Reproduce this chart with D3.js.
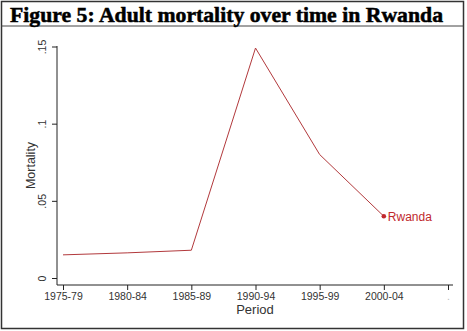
<!DOCTYPE html>
<html>
<head>
<meta charset="utf-8">
<script src="https://cdn.jsdelivr.net/npm/d3@7"></script>
<style>
  html, body { margin: 0; padding: 0; background: #fff; }
  svg { display: block; }
</style>
</head>
<body>
<svg id="chart" width="467" height="331"></svg>
<script>
// Adult mortality in Rwanda by five-year period
const periods = ["1975-79", "1980-84", "1985-89", "1990-94", "1995-99", "2000-04", "."];
const mortality = [0.015, 0.0163, 0.018, 0.149, 0.080, 0.040];
const yTicks = [0, 0.05, 0.1, 0.15];
const yTickLabels = ["0", ".05", ".1", ".15"];
const seriesName = "Rwanda";
const titleText = "Figure 5: Adult mortality over time in Rwanda";

const svg = d3.select("#chart");

// outer frame and title band
svg.append("rect")
  .attr("x", 1.5).attr("y", 1.5)
  .attr("width", 462).attr("height", 327)
  .attr("fill", "#fff").attr("stroke", "#333").attr("stroke-width", 1.5);
svg.append("line")
  .attr("x1", 1.5).attr("x2", 463.5).attr("y1", 26).attr("y2", 26)
  .attr("stroke", "#444").attr("stroke-width", 1);
svg.append("text")
  .attr("x", 10).attr("y", 21.5)
  .attr("font-family", "'Liberation Serif', 'Times New Roman', serif")
  .attr("font-weight", "bold")
  .attr("font-size", 20.5)
  .attr("textLength", 433).attr("lengthAdjust", "spacingAndGlyphs")
  .attr("fill", "#000")
  .attr("stroke", "#000").attr("stroke-width", 0.5)
  .text(titleText);

const plot = { left: 57, right: 453, top: 46, bottom: 285 };

const x = d3.scalePoint()
  .domain(periods)
  .range([63, 448]);

const y = d3.scaleLinear()
  .domain([0, 0.15])
  .range([278, 46.5]);

const sans = "'Liberation Sans', Arial, sans-serif";

// y axis
const yAxis = svg.append("g")
  .attr("transform", `translate(${plot.left},0)`)
  .call(d3.axisLeft(y).tickValues(yTicks)
    .tickFormat((d, i) => yTickLabels[i]).tickSize(5).tickSizeOuter(0));
yAxis.select(".domain").attr("d", `M0,${plot.top}V${plot.bottom}`)
  .attr("stroke", "#222");
yAxis.selectAll(".tick line").attr("stroke", "#222");
yAxis.selectAll(".tick text")
  .attr("font-family", sans).attr("font-size", 10.5).attr("fill", "#333")
  .attr("x", null).attr("dy", null)
  .attr("text-anchor", "middle")
  .attr("transform", "translate(-11,0) rotate(-90)");

// x axis
const xAxis = svg.append("g")
  .attr("transform", `translate(0,${plot.bottom})`)
  .call(d3.axisBottom(x).tickSize(5).tickSizeOuter(0));
xAxis.select(".domain").attr("d", `M${plot.left},0H${plot.right}`)
  .attr("stroke", "#222");
xAxis.selectAll(".tick line").attr("stroke", "#222");
xAxis.selectAll(".tick text")
  .attr("font-family", sans).attr("font-size", 10.5)
  .attr("fill", d => d === "." ? "#bbb" : "#333")
  .attr("y", 8);

// axis titles
svg.append("text")
  .attr("x", (plot.left + plot.right) / 2).attr("y", 314)
  .attr("text-anchor", "middle")
  .attr("font-family", sans).attr("font-size", 13).attr("fill", "#333")
  .text("Period");
svg.append("text")
  .attr("transform", `translate(35,${(plot.top + plot.bottom) / 2}) rotate(-90)`)
  .attr("text-anchor", "middle")
  .attr("font-family", sans).attr("font-size", 12.5).attr("fill", "#333")
  .text("Mortality");

// mortality line
const pts = mortality.map((v, i) => [x(periods[i]), y(v)]);
svg.append("path")
  .attr("d", d3.line()(pts))
  .attr("fill", "none")
  .attr("stroke", "#b2393c")
  .attr("stroke-width", 1);

// end-point marker and label
const last = pts[pts.length - 1];
svg.append("circle")
  .attr("cx", last[0]).attr("cy", last[1]).attr("r", 2.3)
  .attr("fill", "#c0282d");
svg.append("text")
  .attr("x", last[0] + 4).attr("y", last[1] + 4.5)
  .attr("font-family", sans).attr("font-size", 12).attr("fill", "#c0282d")
  .text(seriesName);
</script>
</body>
</html>
